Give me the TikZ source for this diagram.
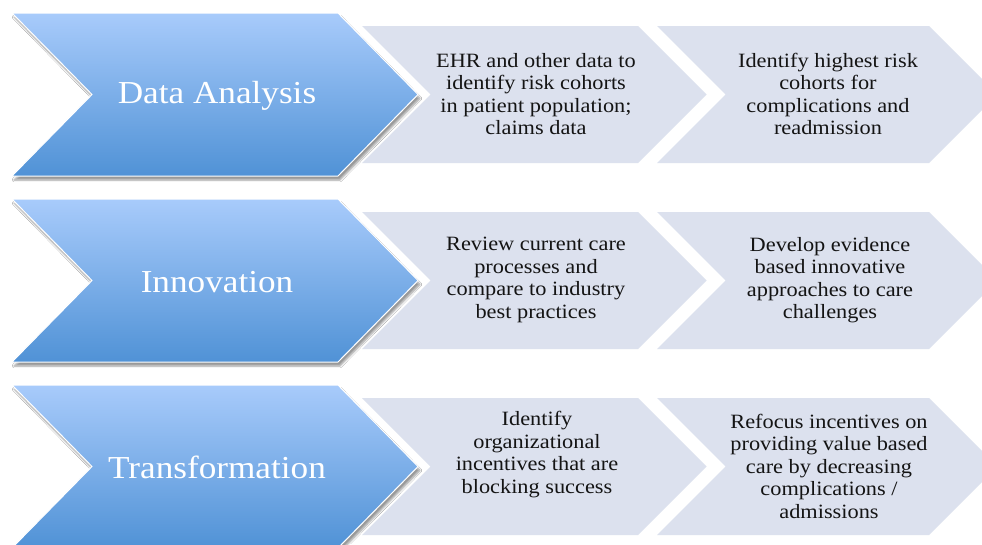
\documentclass[tikz,border=0pt]{standalone}
\usepackage{fontspec}
\setmainfont[FakeStretch=1.1]{Liberation Serif}
\usetikzlibrary{shadows.blur}
\definecolor{bluetop}{RGB}{168,203,251}
\definecolor{bluebot}{RGB}{80,146,214}
\definecolor{graybox}{RGB}{220,225,238}
\definecolor{txt}{RGB}{20,20,20}
\newcommand\chevpath[5]{(#1,#2) -- ++(#3,0) -- ++(#5,#4/2) -- ++(-#5,#4/2) -- ++(-#3,0) -- ++(#5,-#4/2) -- cycle}
\tikzset{
  bluechev/.style={top color=bluetop, bottom color=bluebot, draw=white, line width=1pt,
    blur shadow={shadow xshift=2pt, shadow yshift=-4pt, shadow blur steps=6, shadow opacity=40}},
  graychev/.style={fill=graybox, draw=none},
  steplabel/.style={text=white, font=\fontsize{32}{36}\selectfont, inner sep=0pt},
  bodytext/.style={text=txt, align=center, font=\fontsize{20.3}{22.5}\selectfont, inner sep=0pt}
}
\begin{document}
\begin{tikzpicture}[x=1pt,y=-1pt]
\useasboundingbox (0,0) rectangle (982,544);
\clip (0,0) rectangle (982,544);
\fill[white] (0,0) rectangle (982,544);
\foreach \r in {0,186,372}{
  \path[graychev] \chevpath{657}{26+\r}{272}{137}{68.5};
  \path[graychev] \chevpath{362}{26+\r}{276}{137}{68.5};
  \path[bluechev] \chevpath{12}{13+\r}{326}{163}{80};
}
\node[steplabel] (s1) at (217,96) {Data Analysis};
\node[steplabel] (s2) at (217,282) {Innovation};
\node[steplabel] (s3) at (217,467) {Transformation};
\node[bodytext] (a1) at (536,94) {EHR and other data to\\identify risk cohorts\\in patient population;\\claims data};
\node[bodytext] (b1) at (828,94) {Identify highest risk\\cohorts for\\complications and\\readmission};
\node[bodytext] (a2) at (536,280) {Review current care\\processes and\\compare to industry\\best practices};
\node[bodytext] (b2) at (830,280) {Develop evidence\\based innovative\\approaches to care\\challenges};
\node[bodytext] (a3) at (537,454.5) {Identify\\organizational\\incentives that are\\blocking success};
\node[bodytext] (b3) at (829,466) {Refocus incentives on\\providing value based\\care by decreasing\\complications /\\admissions};
\end{tikzpicture}
\end{document}
